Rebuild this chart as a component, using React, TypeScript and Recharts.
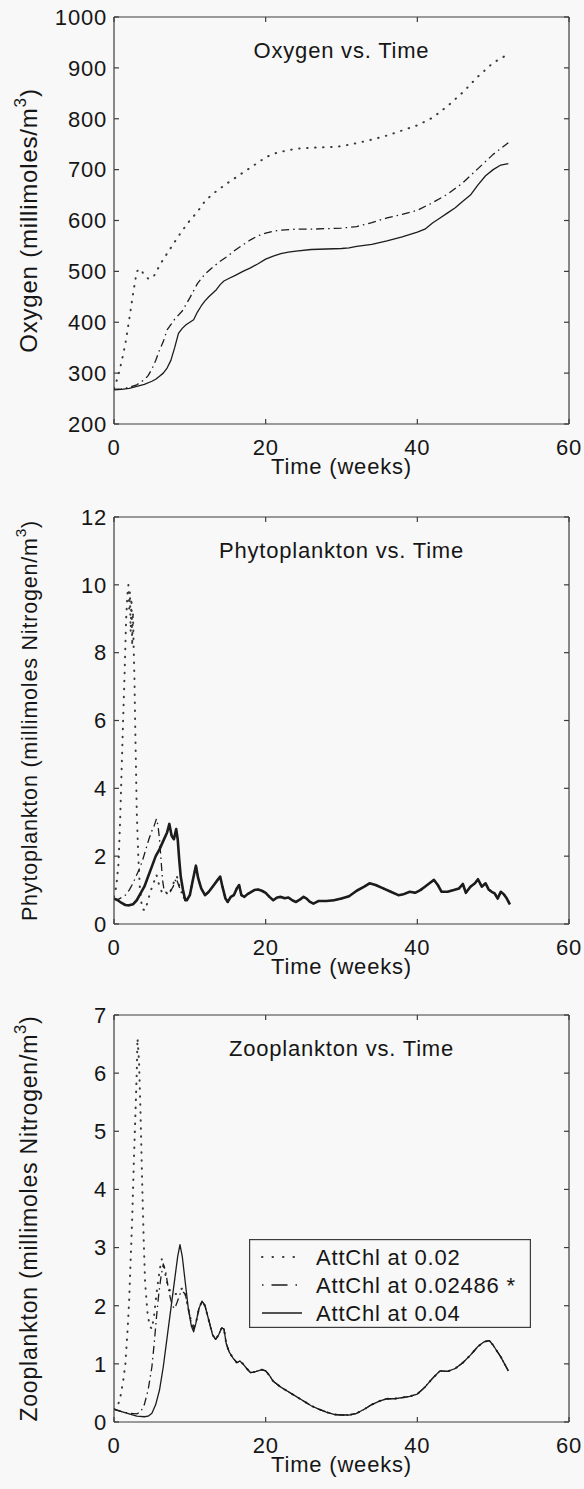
import React from 'react';
import { LineChart, Line, XAxis, YAxis, Label } from 'recharts';

type Pt = [number, number];

const FONT = '"Liberation Sans", Arial, Helvetica, sans-serif';
const INK = '#1c1c1c';
const FRAME = '#3c3c3c';
const BG = '#f8f8f8';

// ---------- tick labels / categories ----------
const timeTicks = [0, 20, 40, 60];
const oxygenTicks = [200, 300, 400, 500, 600, 700, 800, 900, 1000];
const phytoTicks = [0, 2, 4, 6, 8, 10, 12];
const zooTicks = [0, 1, 2, 3, 4, 5, 6, 7];
const seriesLabels = ['AttChl at 0.02', 'AttChl at 0.02486 *', 'AttChl at 0.04'];

// ---------- Oxygen (millimoles/m^3) ----------
const oxygen002: Pt[] = [
  [0, 270], [0.5, 292], [1, 322], [1.5, 358], [2, 405], [2.5, 455], [3, 500], [3.5, 505], [4, 492],
  [4.5, 486], [5, 486], [5.5, 496], [6, 512], [7, 535], [8, 558], [9, 580], [10, 600], [11, 617],
  [12, 638], [13, 652], [14, 663], [15, 674], [16, 684], [17, 694], [18, 704], [19, 714], [20, 724],
  [21, 731], [22, 735], [23, 738], [24, 741], [26, 743], [28, 744], [30, 746], [32, 752], [34, 759],
  [36, 767], [38, 777], [40, 787], [42, 802], [44, 825], [46, 852], [48, 883], [50, 910], [52, 927],
];
const oxygen002486: Pt[] = [
  [0, 268], [1, 269], [2, 272], [3, 277], [4, 287], [4.5, 295], [5, 308], [5.5, 325], [6, 345],
  [6.5, 362], [7, 385], [8, 406], [9, 422], [10, 448], [11, 476], [12, 495], [13, 508], [14, 520],
  [15, 530], [16, 542], [17, 552], [18, 562], [19, 570], [20, 575], [21, 579], [22, 581], [24, 583],
  [26, 583], [28, 584], [30, 585], [32, 588], [34, 596], [36, 605], [38, 612], [40, 620], [42, 635],
  [44, 652], [46, 674], [48, 702], [50, 730], [52, 753],
];
const oxygen004: Pt[] = [
  [0, 267], [1, 268], [2, 270], [3, 274], [4, 278], [5, 284], [5.5, 288], [6, 294], [6.5, 300],
  [7, 310], [7.5, 325], [8, 350], [8.5, 378], [9, 388], [9.5, 395], [10, 400], [10.5, 405], [11, 420],
  [11.5, 432], [12, 442], [12.5, 450], [13, 457], [13.5, 464], [14, 474], [14.5, 481], [15, 485],
  [16, 492], [17, 500], [18, 507], [19, 515], [20, 524], [21, 530], [22, 535], [23, 538], [24, 540],
  [26, 543], [28, 544], [30, 545], [31, 546], [32, 549], [34, 553], [36, 560], [38, 568], [40, 577],
  [41, 583], [42, 595], [43, 605], [44, 615], [45, 625], [46, 638], [47, 650], [48, 670], [49, 688],
  [50, 700], [51, 709], [52, 712],
];

// ---------- Phytoplankton (millimoles Nitrogen/m^3) ----------
const phyto002Head: Pt[] = [
  [0, 0.8], [0.3, 1.1], [0.6, 1.8], [0.8, 3.0], [1.0, 4.5], [1.2, 6.0], [1.4, 7.4], [1.6, 9.0],
  [1.8, 9.8], [1.9, 10.0], [2.0, 9.3], [2.1, 9.8], [2.2, 8.6], [2.3, 9.6], [2.4, 8.2], [2.5, 9.2],
  [2.6, 8.1], [2.7, 7.2], [2.8, 5.8], [2.9, 4.6], [3.0, 3.3], [3.2, 2.0], [3.4, 1.1], [3.7, 0.45],
  [4.1, 0.4], [4.5, 0.7], [4.8, 0.95], [5.2, 1.2], [5.6, 1.45], [6.0, 1.1], [6.4, 0.9], [6.8, 0.95],
  [7.2, 0.85], [7.6, 1.05], [8.0, 1.3], [8.3, 1.4], [8.7, 1.05], [9.1, 0.9], [9.4, 0.72],
];
const phyto002486Head: Pt[] = [
  [0, 0.75], [0.5, 0.72], [1.0, 0.78], [1.5, 0.85], [2.0, 1.0], [2.5, 1.2], [3.0, 1.45], [3.4, 1.65],
  [3.8, 1.9], [4.2, 2.2], [4.6, 2.5], [5.0, 2.75], [5.3, 2.9], [5.6, 3.1], [5.8, 2.9], [6.0, 2.5],
  [6.2, 1.9], [6.4, 1.3], [6.6, 1.0], [7.0, 0.9], [7.4, 0.95], [7.8, 1.1], [8.2, 1.35], [8.6, 1.1],
  [9.0, 0.85], [9.4, 0.7],
];
const phyto004Head: Pt[] = [
  [0, 0.75], [0.5, 0.7], [1.0, 0.62], [1.5, 0.56], [2.0, 0.55], [2.5, 0.58], [3.0, 0.7], [3.5, 0.9],
  [4.0, 1.1], [4.5, 1.4], [5.0, 1.7], [5.5, 2.0], [6.0, 2.2], [6.5, 2.45], [7.0, 2.7], [7.3, 2.95],
  [7.6, 2.6], [7.9, 2.5], [8.2, 2.8], [8.4, 2.5], [8.6, 1.9], [8.8, 1.4], [9.1, 1.0], [9.4, 0.7],
];
const phytoTail: Pt[] = [
  [9.6, 0.7], [10.0, 0.85], [10.4, 1.3], [10.8, 1.72], [11.1, 1.35], [11.5, 1.05], [12.0, 0.85],
  [12.5, 0.95], [13.0, 1.1], [13.5, 1.25], [14.0, 1.4], [14.3, 1.1], [14.7, 0.75], [15.0, 0.65],
  [15.4, 0.8], [15.8, 0.85], [16.2, 1.05], [16.5, 1.15], [16.8, 0.85], [17.2, 0.8], [17.6, 0.88],
  [18.0, 0.93], [18.5, 1.0], [19.0, 1.02], [19.5, 0.98], [20.0, 0.92], [20.5, 0.8], [21.0, 0.7],
  [21.5, 0.78], [22.0, 0.8], [22.5, 0.76], [23.0, 0.78], [23.5, 0.7], [24.0, 0.65], [24.5, 0.72],
  [25.0, 0.8], [25.4, 0.75], [25.8, 0.66], [26.3, 0.6], [27.0, 0.68], [28.0, 0.68], [29.0, 0.7],
  [30.0, 0.75], [31.0, 0.82], [32.0, 0.98], [33.0, 1.1], [33.7, 1.2], [34.5, 1.15], [35.5, 1.05],
  [36.5, 0.95], [37.5, 0.85], [38.2, 0.88], [39.0, 0.95], [39.7, 0.92], [40.4, 1.0], [41.0, 1.1],
  [41.6, 1.2], [42.2, 1.3], [42.7, 1.15], [43.2, 0.95], [44.0, 0.95], [44.8, 1.0], [45.5, 1.05],
  [46.0, 1.18], [46.4, 0.92], [47.0, 1.1], [47.6, 1.2], [48.0, 1.32], [48.5, 1.1], [49.0, 1.2],
  [49.4, 1.02], [49.8, 0.95], [50.2, 0.9], [50.6, 0.75], [51.0, 0.95], [51.4, 0.88], [51.8, 0.75],
  [52.2, 0.58],
];

// ---------- Zooplankton (millimoles Nitrogen/m^3) ----------
const zoo002Head: Pt[] = [
  [0, 0.22], [0.4, 0.25], [0.8, 0.4], [1.2, 0.7], [1.5, 1.0], [1.8, 1.6], [2.0, 2.1], [2.2, 2.8],
  [2.4, 3.5], [2.6, 4.4], [2.8, 5.2], [3.0, 6.0], [3.1, 6.6], [3.3, 6.2], [3.5, 5.3], [3.7, 4.2],
  [3.9, 3.2], [4.1, 2.4], [4.4, 1.9], [4.7, 1.65], [5.0, 1.6], [5.3, 1.85], [5.6, 2.2], [6.0, 2.6],
  [6.3, 2.8], [6.6, 2.65], [7.0, 2.4], [7.4, 2.25], [7.8, 2.2], [8.2, 2.2], [8.6, 2.25], [9.0, 2.3],
  [9.4, 2.2], [9.8, 1.95], [10.2, 1.72], [10.5, 1.65],
];
const zoo002486Head: Pt[] = [
  [0, 0.22], [1, 0.18], [2, 0.15], [3, 0.14], [3.5, 0.17], [4, 0.3], [4.5, 0.55], [5, 0.95],
  [5.3, 1.35], [5.6, 1.8], [5.9, 2.2], [6.2, 2.5], [6.5, 2.72], [6.8, 2.6], [7.1, 2.35], [7.4, 2.15],
  [7.7, 2.0], [8.0, 1.95], [8.3, 2.05], [8.7, 2.2], [9.0, 2.25], [9.4, 2.2], [9.8, 1.95], [10.2, 1.7],
  [10.5, 1.6],
];
const zoo004Head: Pt[] = [
  [0, 0.22], [1, 0.18], [2, 0.14], [3, 0.1], [4, 0.09], [4.5, 0.1], [5, 0.15], [5.5, 0.3], [6, 0.55],
  [6.5, 0.95], [7, 1.45], [7.5, 1.95], [8, 2.45], [8.4, 2.85], [8.7, 3.05], [9.0, 2.85], [9.4, 2.4],
  [9.8, 1.95], [10.2, 1.65], [10.5, 1.55],
];
const zooTail: Pt[] = [
  [10.8, 1.7], [11.2, 1.95], [11.6, 2.08], [12.0, 2.0], [12.5, 1.75], [13.0, 1.5], [13.4, 1.42],
  [13.8, 1.5], [14.2, 1.62], [14.5, 1.6], [14.8, 1.35], [15.2, 1.2], [15.7, 1.1], [16.2, 1.02],
  [16.6, 1.05], [17.0, 1.0], [17.5, 0.92], [18.0, 0.85], [18.5, 0.86], [19.0, 0.88], [19.5, 0.9],
  [20.0, 0.88], [20.5, 0.8], [21.0, 0.7], [22.0, 0.6], [23.0, 0.52], [24.0, 0.44], [25.0, 0.36],
  [26.0, 0.28], [27.0, 0.22], [28.0, 0.17], [29.0, 0.13], [30.0, 0.12], [31.0, 0.12], [32.0, 0.15],
  [33.0, 0.22], [34.0, 0.3], [35.0, 0.36], [36.0, 0.4], [37.0, 0.4], [38.0, 0.42], [39.0, 0.44],
  [40.0, 0.48], [41.0, 0.6], [42.0, 0.75], [43.0, 0.88], [44.0, 0.87], [45.0, 0.92], [46.0, 1.02],
  [47.0, 1.15], [48.0, 1.3], [48.8, 1.38], [49.5, 1.4], [50.0, 1.32], [51.0, 1.12], [52.0, 0.88],
];

// ---------- styles ----------
const lineStyles = [
  { dash: '0.5 7.5', width: 2, cap: 'round' as const, color: '#3a3a3a' },
  { dash: '8 4 1.5 4', width: 1.3, cap: 'butt' as const, color: INK },
  { dash: undefined as string | undefined, width: 1.3, cap: 'butt' as const, color: INK },
];
const legendDash = ['0.5 10', '1.5 8 16 8 1.5 10', undefined];

const textStyle = { fill: '#161616', fontSize: 22, fontFamily: FONT, letterSpacing: 0.8 };
const frameStyle = { stroke: FRAME, strokeWidth: 1.2 };

const toRows = (pts: Pt[]) => pts.map(([t, v]) => ({ t, v }));

type PanelProps = {
  top: number;
  title: string;
  yMain: string;
  yFont: number;
  domain: [number, number];
  ticks: number[];
  series: Pt[][];
  solidWidth?: number;
};

function Panel({ top, title, yMain, yFont, domain, ticks, series, solidWidth }: PanelProps) {
  const plotTop = 17;
  const plotH = 407;
  const cy = plotTop + plotH / 2;
  return (
    <div style={{ position: 'absolute', left: 0, top, width: 584, height: 500 }}>
      <LineChart width={584} height={500} margin={{ top: plotTop - 1, right: 14, bottom: 0, left: 0 }}>
        <XAxis
          xAxisId="b"
          type="number"
          dataKey="t"
          domain={[0, 60]}
          ticks={timeTicks}
          interval={0}
          orientation="bottom"
          height={76}
          tickSize={-5}
          tickMargin={20}
          axisLine={frameStyle}
          tickLine={frameStyle}
          tick={textStyle}
          allowDataOverflow
        >
          <Label
            content={() => (
              <text x={341.5} y={474} textAnchor="middle" {...textStyle}>
                Time (weeks)
              </text>
            )}
          />
        </XAxis>
        <XAxis
          xAxisId="t"
          type="number"
          dataKey="t"
          domain={[0, 60]}
          ticks={timeTicks}
          interval={0}
          orientation="top"
          height={1}
          tickSize={-5}
          axisLine={frameStyle}
          tickLine={frameStyle}
          tickFormatter={() => ''}
          allowDataOverflow
        >
          <Label
            content={() => (
              <text x={341.5} y={58} textAnchor="middle" {...textStyle}>
                {title}
              </text>
            )}
          />
        </XAxis>
        <YAxis
          yAxisId="l"
          type="number"
          domain={domain}
          ticks={ticks}
          interval={0}
          orientation="left"
          width={114}
          tickSize={-5}
          tickMargin={12}
          axisLine={frameStyle}
          tickLine={frameStyle}
          tick={textStyle}
          allowDataOverflow
        >
          <Label
            content={() => (
              <text
                transform={`translate(37, ${cy}) rotate(-90)`}
                textAnchor="middle"
                {...textStyle}
                fontSize={yFont}
              >
                {yMain}
                <tspan dy={-11} fontSize={yFont * 0.72}>3</tspan>
                <tspan dy={11}>)</tspan>
              </text>
            )}
          />
        </YAxis>
        <YAxis
          yAxisId="r"
          type="number"
          domain={domain}
          ticks={ticks}
          interval={0}
          orientation="right"
          width={1}
          tickSize={-5}
          axisLine={frameStyle}
          tickLine={frameStyle}
          tickFormatter={() => ''}
          allowDataOverflow
        />
        {series.map((pts, i) => (
          <Line
            key={seriesLabels[i]}
            name={seriesLabels[i]}
            data={toRows(pts)}
            xAxisId="b"
            yAxisId="l"
            dataKey="v"
            type="linear"
            stroke={lineStyles[i].color}
            strokeWidth={i === 2 && solidWidth ? solidWidth : lineStyles[i].width}
            strokeDasharray={lineStyles[i].dash}
            strokeLinecap={lineStyles[i].cap}
            strokeLinejoin="round"
            dot={false}
            activeDot={false}
            isAnimationActive={false}
          />
        ))}
        {/* invisible twin of the solid series so the top/right frame axes get a data binding */}
        <Line
          data={toRows(series[2])}
          xAxisId="t"
          yAxisId="r"
          dataKey="v"
          stroke="none"
          strokeWidth={0}
          dot={false}
          activeDot={false}
          legendType="none"
          isAnimationActive={false}
        />
      </LineChart>
    </div>
  );
}

function LegendBox() {
  const rows = [18, 46, 74];
  return (
    <svg width={282} height={89} style={{ position: 'absolute', left: 249, top: 1239 }}>
      <rect x={0.6} y={0.6} width={280.8} height={87.8} fill={BG} stroke={FRAME} strokeWidth={1.2} />
      {seriesLabels.map((lab, i) => (
        <g key={lab}>
          <line
            x1={13}
            x2={53}
            y1={rows[i]}
            y2={rows[i]}
            stroke={lineStyles[i].color}
            strokeWidth={lineStyles[i].width}
            strokeDasharray={legendDash[i]}
            strokeLinecap={lineStyles[i].cap}
          />
          <text x={67} y={rows[i] + 8} {...textStyle}>
            {lab}
          </text>
        </g>
      ))}
    </svg>
  );
}

export default function App() {
  return (
    <div
      style={{
        position: 'absolute',
        left: 0,
        top: 0,
        width: 584,
        height: 1489,
        background: BG,
        overflow: 'hidden',
      }}
    >
      <Panel
        top={0}
        title="Oxygen vs. Time"
        yMain="Oxygen (millimoles/m"
        yFont={24}
        domain={[200, 1000]}
        ticks={oxygenTicks}
        series={[oxygen002, oxygen002486, oxygen004]}
      />
      <Panel
        top={500}
        title="Phytoplankton vs. Time"
        yMain="Phytoplankton (millimoles Nitrogen/m"
        yFont={21.5}
        domain={[0, 12]}
        ticks={phytoTicks}
        series={[
          [...phyto002Head, ...phytoTail],
          [...phyto002486Head, ...phytoTail],
          [...phyto004Head, ...phytoTail],
        ]}
        solidWidth={2.6}
      />
      <Panel
        top={998}
        title="Zooplankton vs. Time"
        yMain="Zooplankton (millimoles Nitrogen/m"
        yFont={23}
        domain={[0, 7]}
        ticks={zooTicks}
        series={[
          [...zoo002Head, ...zooTail],
          [...zoo002486Head, ...zooTail],
          [...zoo004Head, ...zooTail],
        ]}
      />
      <LegendBox />
    </div>
  );
}
